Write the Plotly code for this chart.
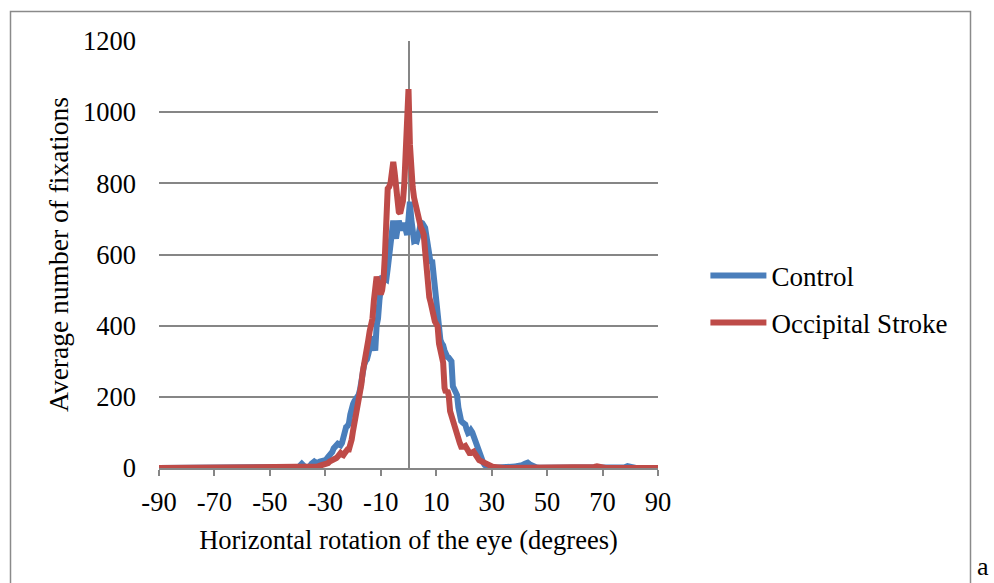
import numpy as np
import plotly.graph_objects as go

# Horizontal eye rotation bins (degrees): 1-degree bins in the tails,
# half-degree bins across the central +/-40 degrees.
DEG_LEFT = np.arange(-90, -40, 1.0)
DEG_CENTER = np.arange(-40, 40.5, 0.5)
DEG_RIGHT = np.arange(41, 91, 1.0)
DEG = np.concatenate([DEG_LEFT, DEG_CENTER, DEG_RIGHT])

# Average number of fixations per bin
CONTROL_LEFT = [0, 0, 0, 0, 0, 0, 0, 0, 0, 0,
                0, 0, 0, 0, 0, 0, 0, 0, 0, 0,
                0, 0, 0, 0, 0, 0, 0, 0, 0, 0,
                0, 0, 0, 0, 0, 0, 0, 0, 0, 0,
                0, 0, 0, 0, 0, 0, 0, 0, 1, 0]
CONTROL_CENTER = [
    0, 3, 8, 12, 8, 4, 2, 2, 3, 6,            # -40 .. -35.5
    12, 17, 18, 15, 14, 16, 18, 18, 20, 22,   # -35 .. -30.5
    22, 26, 30, 36, 38, 45, 55, 62, 68, 68,   # -30 .. -25.5
    66, 64, 70, 88, 105, 115, 118, 125, 150, 172,   # -25 .. -20.5
    180, 188, 192, 198, 205, 220, 250, 282, 290, 300,  # -20 .. -15.5
    305, 320, 345, 365, 370, 345, 330, 400, 420, 470,  # -15 .. -10.5
    535, 540, 535, 530, 530, 560, 600, 630, 645, 695,  # -10 .. -5.5
    660, 645, 670, 695, 680, 668, 680, 688, 670, 655,  # -5 .. -0.5
    700, 748, 700, 645, 638, 640, 638, 652, 680, 690,  # 0 .. 4.5
    688, 680, 675, 650, 625, 585, 575, 585, 540, 500,  # 5 .. 9.5
    460, 410, 380, 360, 350, 345, 330, 318, 312, 310,  # 10 .. 14.5
    306, 300, 230, 218, 212, 205, 170, 138, 132, 128,  # 15 .. 19.5
    125, 122, 108, 98, 100, 106, 100, 88, 75, 68,      # 20 .. 24.5
    55, 42, 32, 22, 14, 8, 4, 2, 1, 0,                 # 25 .. 29.5
    0, 0, 0, 0, 0, 0, 1, 1, 2, 2,                      # 30 .. 34.5
    2, 2, 3, 3, 3, 2, 3, 4, 5, 5,                      # 35 .. 39.5
    6]                                                 # 40
CONTROL_RIGHT = [8, 12, 15, 9, 4, 2, 1, 1, 0, 0,      # 41 .. 50
                 0, 0, 0, 1, 0, 0, 0, 0, 0, 0,        # 51 .. 60
                 0, 0, 0, 0, 0, 0, 0, 1, 0, 0,        # 61 .. 70
                 0, 0, 0, 0, 0, 0, 1, 2, 5, 2,        # 71 .. 80
                 0, 0, 0, 0, 0, 0, 0, 0, 0, 0]        # 81 .. 90

STROKE_LEFT = [0] * 50
STROKE_CENTER = [
    0, 0, 0, 0, 1, 1, 1, 1, 2, 2,             # -40 .. -35.5
    2, 2, 2, 3, 4, 5, 6, 7, 8, 8,             # -35 .. -30.5
    10, 12, 14, 18, 20, 18, 22, 25, 28, 32,   # -30 .. -25.5
    38, 42, 38, 36, 42, 48, 52, 52, 62, 80,   # -25 .. -20.5
    105, 125, 150, 168, 190, 210, 235, 270, 290, 300,  # -20 .. -15.5
    330, 360, 385, 405, 420, 470, 525, 538, 515, 490,  # -15 .. -10.5
    488, 500, 530, 600, 720, 785, 790, 800, 830, 860,  # -10 .. -5.5
    830, 780, 740, 720, 716, 730, 750, 800, 890, 1000,  # -5 .. -0.5
    1065, 910, 820, 790, 760, 740, 720, 705, 690, 675,  # 0 .. 4.5
    668, 655, 610, 560, 505, 480, 465, 440, 420, 412,   # 5 .. 9.5
    405, 398, 350, 330, 310, 296, 225, 212, 218, 205,   # 10 .. 14.5
    160, 145, 130, 118, 108, 100, 85, 70, 60, 58,       # 15 .. 19.5
    60, 62, 55, 45, 42, 42, 46, 46, 40, 32,             # 20 .. 24.5
    25, 22, 20, 18, 15, 12, 10, 8, 6, 5,                # 25 .. 29.5
    4, 3, 3, 2, 2, 1, 0, 0, 0, 0,                       # 30 .. 34.5
    0, 0, 0, 0, 0, 0, 0, 0, 0, 0,                       # 35 .. 39.5
    0]                                                  # 40
STROKE_RIGHT = [0, 0, 0, 0, 0, 0, 0, 0, 0, 0,         # 41 .. 50
                0, 0, 0, 0, 0, 0, 0, 0, 0, 0,         # 51 .. 60
                0, 0, 0, 0, 0, 1, 3, 5, 2, 0,         # 61 .. 70
                0, 0, 0, 0, 0, 0, 0, 0, 2, 3,         # 71 .. 80
                0, 0, 0, 0, 0, 0, 0, 0, 0, 0]         # 81 .. 90

CONTROL = CONTROL_LEFT + CONTROL_CENTER + CONTROL_RIGHT
STROKE = STROKE_LEFT + STROKE_CENTER + STROKE_RIGHT

X_TICKS = list(range(-90, 91, 20))
Y_TICKS = list(range(0, 1201, 200))

SERIF = "Liberation Serif, Times New Roman, serif"
GRID = "#868686"

fig = go.Figure()
fig.add_trace(go.Scatter(x=DEG, y=CONTROL, mode="lines", name="Control",
                         legendgroup="a",
                         line=dict(color="#4A7EBB", width=6)))
fig.add_trace(go.Scatter(x=DEG, y=STROKE, mode="lines", name="Occipital Stroke",
                         legendgroup="b",
                         line=dict(color="#BE4B48", width=6)))

fig.update_layout(
    width=994, height=583,
    margin=dict(l=159, r=336, t=41, b=115),
    paper_bgcolor="white", plot_bgcolor="white",
    font=dict(family=SERIF, size=26, color="black"),
    showlegend=True,
    legend=dict(x=1.095, y=0.395, xanchor="left", yanchor="middle",
                font=dict(size=27), itemwidth=56, tracegroupgap=9,
                bgcolor="rgba(0,0,0,0)"),
    xaxis=dict(range=[-90, 90], tickvals=X_TICKS, ticktext=[str(t) for t in X_TICKS],
               tickfont=dict(size=26.5),
               showgrid=False, zeroline=True, zerolinecolor=GRID, zerolinewidth=1.5,
               showline=True, linecolor=GRID, linewidth=1.5,
               ticks="outside", ticklen=6, tickcolor=GRID, tickwidth=1.5,
               ticklabelstandoff=3,
               title=dict(text="Horizontal rotation of the eye (degrees)",
                          font=dict(size=26.5), standoff=15)),
    yaxis=dict(range=[0, 1200], tickvals=Y_TICKS, ticktext=[str(t) for t in Y_TICKS],
               tickfont=dict(size=26.5),
               showgrid=True, gridcolor=GRID, gridwidth=1.5,
               zeroline=False, showline=False, ticks="",
               ticklabelstandoff=22,
               title=dict(text="Average number of fixations",
                          font=dict(size=27.5), standoff=6)),
)

# Outer frame around the chart
fig.add_shape(type="rect", xref="paper", yref="paper",
              x0=(10.5 - 159) / 499, x1=(970.5 - 159) / 499,
              y0=(468 - 600) / 427, y1=(468 - 11.5) / 427,
              line=dict(color="#8a8a8a", width=1.5), fillcolor="rgba(0,0,0,0)",
              layer="below")

fig.add_annotation(text="a", xref="paper", yref="paper",
                   x=(983 - 159) / 499, y=(468 - 583) / 427,
                   xanchor="center", yanchor="bottom", showarrow=False,
                   font=dict(family=SERIF, size=26, color="black"))

fig.write_html("out.html")
